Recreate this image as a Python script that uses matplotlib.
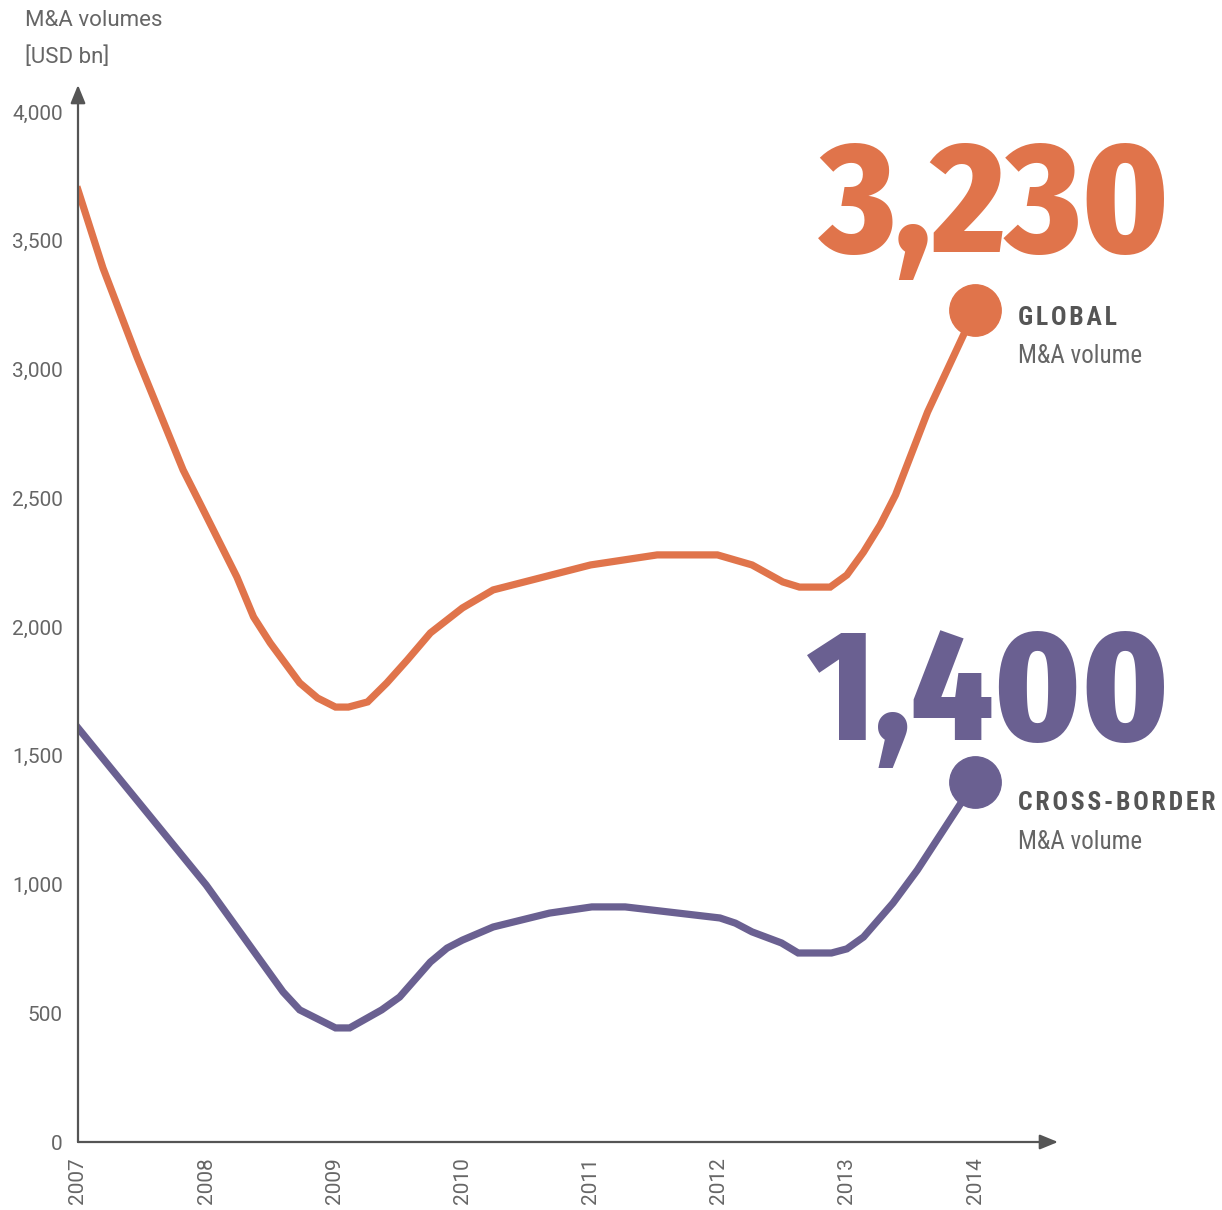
import matplotlib
matplotlib.use("Agg")
import matplotlib.pyplot as plt

# data (USD bn)
global_years = [2007.0, 2007.195, 2007.46, 2007.82, 2007.95, 2008.24, 2008.37, 2008.50,
                2008.73, 2008.87, 2009.01, 2009.11, 2009.26, 2009.41, 2009.57, 2009.75,
                2010.0, 2010.24, 2011.0, 2011.52, 2011.99, 2012.26, 2012.50, 2012.63,
                2012.87, 2013.0, 2013.13, 2013.26, 2013.38, 2013.63, 2014.0]
global_vol = [3697, 3394, 3049, 2610, 2482, 2194, 2039, 1938,
              1783, 1724, 1689, 1689, 1709, 1783, 1872, 1977,
              2074, 2144, 2241, 2280, 2280, 2241, 2175, 2155,
              2155, 2202, 2291, 2396, 2513, 2835, 3230]

cross_years = [2007.0, 2008.0, 2008.60, 2008.73, 2009.01, 2009.12, 2009.37, 2009.51,
               2009.75, 2009.88, 2010.0, 2010.24, 2010.68, 2011.01, 2011.27, 2012.01,
               2012.13, 2012.26, 2012.49, 2012.62, 2012.88, 2013.0, 2013.13, 2013.36,
               2013.55, 2014.0]
cross_vol = [1608, 998, 583, 513, 443, 443, 513, 563,
             699, 753, 784, 835, 889, 913, 913, 870,
             850, 816, 773, 734, 734, 750, 796, 928,
             1056, 1400]

year_ticks = [2007, 2008, 2009, 2010, 2011, 2012, 2013, 2014]
value_ticks = [0, 500, 1000, 1500, 2000, 2500, 3000, 3500, 4000]

ORANGE = "#e0744b"
PURPLE = "#6a6091"
AXIS = "#555555"
TEXT = "#666666"

COND = ["Roboto Condensed", "DejaVu Sans"]
WIDE = ["Roboto", "DejaVu Sans"]
BIG = ["Fira Sans Condensed", "Roboto Condensed", "DejaVu Sans"]
plt.rcParams["font.family"] = WIDE


def spaced(s):
    # a little tracking, as in the reference labels
    return "\u200a".join(s)


W, H = 1222, 1210
fig = plt.figure(figsize=(W / 100, H / 100), dpi=100)
ax = fig.add_axes([78 / W, 1 - 1142 / H, (1058 - 78) / W, (1142 - 85) / H])
ax.set_xlim(2007, 2007 + (1058 - 78) / ((975 - 78) / 7))
ax.set_ylim(0, 4000 * (1142 - 85) / (1142 - 112))

ax.plot(global_years, global_vol, color=ORANGE, lw=5.2, solid_joinstyle="miter", zorder=3)
ax.plot(cross_years, cross_vol, color=PURPLE, lw=5.2, solid_joinstyle="miter", zorder=3)
ax.plot([global_years[-1]], [global_vol[-1]], "o", color=ORANGE, ms=37, zorder=4)
ax.plot([cross_years[-1]], [cross_vol[-1]], "o", color=PURPLE, ms=37, zorder=4)

for s in ax.spines.values():
    s.set_visible(False)
ax.annotate("", xy=(1, 0), xytext=(0, 0), xycoords="axes fraction",
            arrowprops=dict(arrowstyle="-|>,head_length=1.1,head_width=0.45", color=AXIS, lw=1.6,
                            shrinkA=0, shrinkB=0))
ax.annotate("", xy=(0, 1), xytext=(0, 0), xycoords="axes fraction",
            arrowprops=dict(arrowstyle="-|>,head_length=1.1,head_width=0.45", color=AXIS, lw=1.6,
                            shrinkA=0, shrinkB=0))

ax.set_yticks(value_ticks)
ax.set_yticklabels([f"{v:,}" for v in value_ticks])
ax.set_xticks(year_ticks)
ax.set_xticklabels([str(y) for y in year_ticks], rotation=90)
ax.tick_params(length=0, colors=TEXT, labelsize=15)
ax.tick_params(axis="y", pad=11)
ax.tick_params(axis="x", pad=11)

fig.text(25 / W, 1 - 20 / H, "M&A volumes", fontsize=16, color=TEXT, va="center", ha="left")
fig.text(25 / W, 1 - 57 / H, "[USD bn]", fontsize=16, color=TEXT, va="center", ha="left")

fig.text(1170 / W, 1 - 252 / H, f"{global_vol[-1]:,}", fontsize=114, fontweight=800,
         family=BIG, color=ORANGE, ha="right", va="baseline")
fig.text(1170 / W, 1 - 740 / H, f"{cross_vol[-1]:,}", fontsize=114, fontweight=800,
         family=BIG, color=PURPLE, ha="right", va="baseline")

fig.text(1018 / W, 1 - 318 / H, spaced("GLOBAL"), fontsize=18.5, fontweight="bold",
         family=COND, color=AXIS, va="center")
fig.text(1018 / W, 1 - 356 / H, "M&A volume", fontsize=18, family=COND, color=TEXT, va="center")
fig.text(1018 / W, 1 - 803 / H, spaced("CROSS-BORDER"), fontsize=18.5, fontweight="bold",
         family=COND, color=AXIS, va="center")
fig.text(1018 / W, 1 - 842 / H, "M&A volume", fontsize=18, family=COND, color=TEXT, va="center")

fig.savefig("out.png", dpi=100)
